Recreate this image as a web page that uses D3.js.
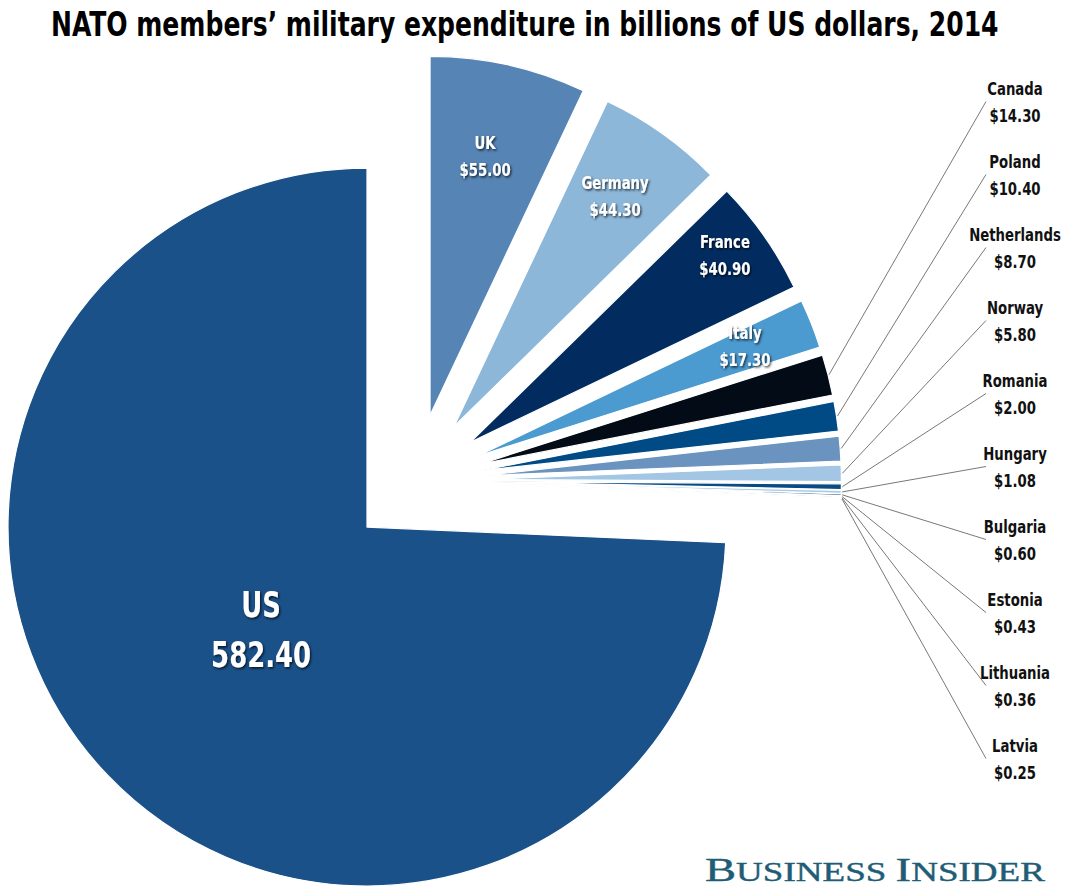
<!DOCTYPE html>
<html>
<head>
<meta charset="utf-8">
<script src="https://cdn.jsdelivr.net/npm/d3@7/dist/d3.min.js"></script>
<style>
  html, body { margin: 0; padding: 0; background: #ffffff; }
  svg { display: block; }
  .cond { font-family: "Liberation Sans Narrow", "DejaVu Sans Condensed", "Roboto", sans-serif; font-weight: bold; font-stretch: condensed; }
</style>
</head>
<body>
<svg id="chart" width="1071" height="892"></svg>
<script>
// ---- data ----
const countries = ["UK", "Germany", "France", "Italy", "Canada", "Poland", "Netherlands", "Norway",
                   "Romania", "Hungary", "Bulgaria", "Estonia", "Lithuania", "Latvia", "US"];
const spending = [55.00, 44.30, 40.90, 17.30, 14.30, 10.40, 8.70, 5.80,
                  2.00, 1.08, 0.60, 0.43, 0.36, 0.25, 582.40];
const valueLabels = ["$55.00", "$44.30", "$40.90", "$17.30", "$14.30", "$10.40", "$8.70", "$5.80",
                     "$2.00", "$1.08", "$0.60", "$0.43", "$0.36", "$0.25", "582.40"];
const sliceColors = ["#5584b5", "#8db7d9", "#022c5f", "#4b9ad0", "#020b16", "#004a86", "#6b93c0", "#a3c6e4",
                     "#0a4a85", "#a9cbe6", "#0a3a70", "#5b8fc4", "#1d4f86", "#9ec0de", "#1a5189"];
const insideLabels = ["UK", "Germany", "France", "Italy", "US"];
const outsideLabels = ["Canada", "Poland", "Netherlands", "Norway", "Romania", "Hungary",
                       "Bulgaria", "Estonia", "Lithuania", "Latvia"];
const titleText = "NATO members\u2019 military expenditure in billions of US dollars, 2014";

// ---- layout ----
const W = 1071, H = 892;
const cx = 415.4, cy = 480.7, R = 359, explode = 67;
// inside label placement: [angle in degrees clockwise from 12 o'clock, distance from slice tip]
const insidePlacement = { "UK": [12.0, 264.6], "Germany": [34.9, 281.1], "France": [53.7, 316],
                          "Italy": [67.7, 288.9], "US": [226.1, 147] };

const svg = d3.select("#chart");
const defs = svg.append("defs");
const f = defs.append("filter").attr("id", "shadow").attr("x", "-20%").attr("y", "-30%").attr("width", "140%").attr("height", "160%");
f.append("feDropShadow").attr("dx", 1.2).attr("dy", 1.5).attr("stdDeviation", 1.2)
  .attr("flood-color", "#000").attr("flood-opacity", 0.75);

// text helper: condensed text squeezed horizontally via transform
function condText(parent, x, y, str, size, sx, fill, anchor) {
  return parent.append("text").attr("class", "cond")
    .attr("text-anchor", anchor || "middle")
    .attr("transform", `translate(${x},${y}) scale(${sx},1)`)
    .attr("font-size", size).attr("fill", fill).text(str);
}

const data = countries.map((c, i) => ({ name: c, value: spending[i], label: valueLabels[i], color: sliceColors[i] }));

const pie = d3.pie().sort(null).value(d => d.value).startAngle(0).endAngle(2 * Math.PI);
const arcs = pie(data);
const arc = d3.arc().innerRadius(0).outerRadius(R);

const g = svg.append("g").attr("transform", `translate(${cx},${cy})`);

function mid(a) { return (a.startAngle + a.endAngle) / 2; }
function polar(r, ang) { return [r * Math.sin(ang), -r * Math.cos(ang)]; }

arcs.forEach(a => {
  const [ox, oy] = polar(explode, mid(a));
  a.ox = ox; a.oy = oy;
});

g.selectAll("path.slice")
  .data(arcs)
  .join("path")
  .attr("class", "slice")
  .attr("transform", d => `translate(${d.ox},${d.oy})`)
  .attr("d", arc)
  .attr("fill", d => d.data.color)
  .attr("stroke", "#ffffff")
  .attr("stroke-width", 1.2)
  .attr("stroke-linejoin", "round");

// inside labels
arcs.filter(a => insideLabels.includes(a.data.name)).forEach(a => {
  const [deg, r] = insidePlacement[a.data.name];
  const [px, py] = polar(r, deg * Math.PI / 180);
  const isUS = a.data.name === "US";
  const fs = isUS ? 36 : 18;
  const gap = isUS ? 50 : 27;
  const sx = isUS ? 0.8 : 0.82;
  const t = g.append("g").attr("transform", `translate(${a.ox + px},${a.oy + py})`).attr("filter", "url(#shadow)");
  condText(t, 0, -gap / 2 + fs * 0.36, a.data.name, fs, sx, "#fff");
  condText(t, 0, gap / 2 + fs * 0.36, a.data.label, fs, sx, "#fff");
});

// outside labels
const labelX = 1015, labelTop = 88, labelStep = 73, valueGap = 27;
const lineEndX = 986;
arcs.filter(a => outsideLabels.includes(a.data.name)).forEach(a => {
  const k = outsideLabels.indexOf(a.data.name);
  const yName = labelTop + k * labelStep;
  const [px, py] = polar(R + 1, mid(a));
  const sx0 = cx + a.ox + px, sy0 = cy + a.oy + py;
  svg.append("line").attr("x1", sx0).attr("y1", sy0).attr("x2", lineEndX).attr("y2", yName + valueGap / 2)
    .attr("stroke", "#555").attr("stroke-width", 0.8);
  condText(svg, labelX, yName + 6.5, a.data.name, 18, 0.82, "#111");
  condText(svg, labelX, yName + valueGap + 6.5, a.data.label, 18, 0.82, "#111");
});

// title, squeezed to the reference width
const title = condText(svg, 0, 36, titleText, 34, 1, "#000", "start");
const tw = title.node().getComputedTextLength();
const tsx = 948 / tw;
title.attr("transform", `translate(51,36) scale(${tsx},1)`);

// logo
const logo = svg.append("text")
  .attr("font-family", "'Liberation Serif', 'DejaVu Serif', serif")
  .attr("fill", "#1f5d77").attr("stroke", "#1f5d77").attr("stroke-width", 0.4);
logo.append("tspan").attr("font-size", 34).text("B");
logo.append("tspan").attr("font-size", 27).text("USINESS ");
logo.append("tspan").attr("font-size", 34).text("I");
logo.append("tspan").attr("font-size", 27).text("NSIDER");
const lw = logo.node().getComputedTextLength();
logo.attr("transform", `translate(705,881) scale(${340 / lw},1)`);
</script>
</body>
</html>
